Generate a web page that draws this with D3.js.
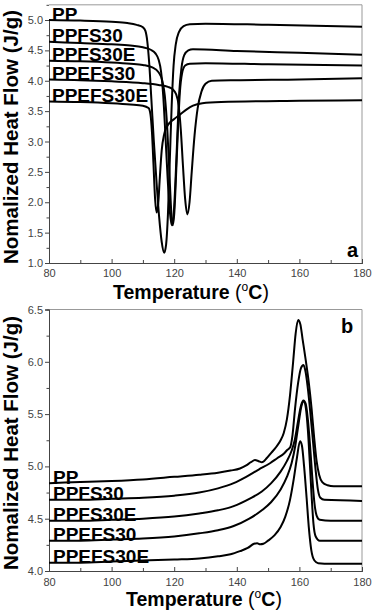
<!DOCTYPE html>
<html>
<head>
<meta charset="utf-8" />
<title>DSC curves</title>
<script src="https://d3js.org/d3.v7.min.js"></script>
<style>
  body { margin: 0; background: #fff; }
  text { font-family: "Liberation Sans", Arial, sans-serif; }
</style>
</head>
<body>
<svg width="372" height="610"></svg>
<script>
// sample names, same order in both panels
const names = ["PP", "PPFS30", "PPFS30E", "PPEFS30", "PPEFS30E"];

// panel a: cooling curves [temperature, heat flow]
const coolPP = [[80,5.0],[90,4.99],[100,4.97],[105,4.95],[108,4.92],[110,4.88],[110.8,4.82],[111.4,4.65],[112,4.3],[112.7,3.7],[113.5,3.0],[114.4,2.3],[115.2,1.75],[116,1.35],[116.8,1.17],[117.4,1.3],[118,1.8],[118.6,2.7],[119.2,3.6],[119.8,4.25],[120.5,4.6],[121.5,4.8],[123,4.9],[125,4.93],[130,4.94],[150,4.92],[180,4.89]];
const coolPPFS30 = [[80,4.64],[90,4.62],[100,4.6],[106,4.58],[110,4.55],[112.5,4.51],[114,4.45],[115,4.35],[115.8,4.15],[116.5,3.75],[117.2,3.1],[117.9,2.4],[118.6,1.85],[119.2,1.62],[119.8,1.78],[120.4,2.35],[121,3.1],[121.6,3.8],[122.3,4.2],[123.2,4.42],[124.5,4.5],[126,4.52],[140,4.49],[160,4.46],[180,4.43]];
const coolPPFS30E = [[80,4.33],[90,4.32],[100,4.3],[106,4.28],[110,4.26],[113,4.22],[115,4.14],[116.2,4.0],[117,3.75],[117.8,3.2],[118.5,2.45],[119,1.9],[119.5,1.62],[120,1.8],[120.6,2.45],[121.2,3.2],[121.8,3.8],[122.5,4.12],[123.5,4.25],[125,4.28],[130,4.29],[150,4.27],[180,4.25]];
const coolPPEFS30 = [[80,4.02],[90,4.01],[100,3.99],[110,3.96],[115,3.93],[118,3.9],[119.5,3.86],[120.6,3.78],[121.4,3.6],[122.1,3.2],[122.8,2.6],[123.5,2.05],[124.2,1.8],[124.9,2.0],[125.6,2.5],[126.5,3.1],[127.5,3.55],[128.7,3.82],[130,3.95],[132,4.0],[140,4.01],[160,4.02],[180,4.04]];
const coolPPEFS30E = [[80,3.66],[90,3.65],[100,3.63],[106,3.61],[110,3.59],[111.8,3.55],[112.4,3.45],[112.9,3.15],[113.4,2.6],[113.9,2.05],[114.4,1.83],[114.9,1.98],[115.4,2.4],[116,2.85],[116.8,3.12],[118,3.27],[120,3.37],[122,3.45],[124,3.53],[126,3.59],[129,3.63],[135,3.65],[160,3.67],[180,3.68]];

// panel b: heating curves
const heatPP = [[80,4.84],[90,4.85],[100,4.86],[110,4.875],[120,4.9],[128,4.92],[134,4.94],[138,4.96],[141,4.98],[143,5.01],[144.5,5.04],[145.8,5.06],[147,5.05],[148,5.04],[149.6,5.08],[151,5.13],[152.7,5.19],[154,5.25],[155,5.32],[156,5.45],[157,5.68],[158,6.0],[158.8,6.27],[159.6,6.4],[160.3,6.36],[161,6.22],[162,6.02],[163,5.8],[163.9,5.55],[164.7,5.28],[165.5,5.05],[166.3,4.92],[167.3,4.85],[169,4.82],[171,4.81],[180,4.81]];
const heatPPFS30 = [[80,4.68],[90,4.68],[100,4.69],[110,4.7],[120,4.72],[128,4.75],[134,4.79],[139,4.84],[143,4.9],[147,4.97],[150.6,5.03],[153,5.08],[155,5.12],[156.2,5.16],[157,5.18],[157.8,5.3],[158.6,5.55],[159.6,5.8],[160.5,5.94],[161.3,5.97],[162,5.9],[162.8,5.72],[163.6,5.48],[164.4,5.22],[165.2,4.96],[165.9,4.78],[166.7,4.7],[168,4.68],[180,4.67]];
const heatPPFS30E = [[80,4.48],[90,4.48],[100,4.49],[110,4.5],[120,4.52],[128,4.55],[134,4.58],[139,4.62],[144,4.69],[148,4.76],[151,4.84],[154,4.95],[156,5.05],[157.5,5.15],[158.5,5.25],[159.5,5.42],[160.5,5.58],[161.3,5.63],[162,5.6],[162.7,5.45],[163.4,5.2],[164.1,4.9],[164.8,4.65],[165.5,4.53],[166.5,4.49],[170,4.48],[180,4.48]];
const heatPPEFS30 = [[80,4.29],[90,4.29],[100,4.3],[110,4.31],[120,4.33],[128,4.36],[134,4.39],[139,4.43],[144,4.5],[148,4.58],[151,4.66],[154,4.78],[156,4.9],[157.5,5.03],[158.7,5.2],[159.7,5.4],[160.6,5.57],[161.4,5.62],[162.1,5.55],[162.7,5.35],[163.3,5.05],[163.9,4.72],[164.5,4.45],[165.2,4.33],[166.5,4.29],[170,4.29],[180,4.29]];
const heatPPEFS30E = [[80,4.08],[90,4.08],[100,4.09],[110,4.1],[120,4.11],[128,4.12],[134,4.14],[138,4.16],[141,4.19],[143.5,4.22],[145.5,4.26],[146.5,4.265],[147.5,4.255],[148.5,4.26],[150,4.29],[152,4.34],[154,4.42],[155.5,4.52],[157,4.68],[158.2,4.88],[159.2,5.08],[160.2,5.24],[160.8,5.2],[161.5,5.0],[162.3,4.7],[163,4.42],[163.8,4.2],[164.8,4.1],[166,4.075],[170,4.07],[180,4.07]];

// ticks
const xTicks = [80, 100, 120, 140, 160, 180];
const xMinor = [90, 110, 130, 150, 170];
const yTicksA = [1.0, 1.5, 2.0, 2.5, 3.0, 3.5, 4.0, 4.5, 5.0];
const yMinorA = [1.25, 1.75, 2.25, 2.75, 3.25, 3.75, 4.25, 4.75, 5.25];
const yTicksB = [4.0, 4.5, 5.0, 5.5, 6.0, 6.5];
const yMinorB = [4.25, 4.75, 5.25, 5.75, 6.25];

const svg = d3.select("svg");
const left = 49, right = 362;

function drawPanel(cfg) {
    const x = d3.scaleLinear().domain([80, 180]).range([left, right]);
    const y = d3.scaleLinear().domain(cfg.yDomain).range(cfg.yRange);
    const g = svg.append("g");
    const yTop = y(cfg.yMax), yBot = y(cfg.yDomain[0]);

    // frame top and right
    g.append("path")
        .attr("d", `M${left},${yTop}H${right}V${yBot}`)
        .attr("fill", "none").attr("stroke", "#999").attr("stroke-width", 1);

    const xAx = g.append("g").attr("transform", `translate(0,${yBot})`)
        .call(d3.axisBottom(x).tickValues(xTicks).tickSize(-4).tickPadding(cfg.xPad));
    g.append("g").attr("transform", `translate(0,${yBot})`)
        .call(d3.axisBottom(x).tickValues(xMinor).tickSize(-3).tickFormat(""));
    g.append("g").attr("transform", `translate(${left},0)`)
        .call(d3.axisLeft(y).tickValues(cfg.yTicks).tickSize(4).tickPadding(2).tickFormat(d3.format(".1f")));
    g.append("g").attr("transform", `translate(${left},0)`)
        .call(d3.axisLeft(y).tickValues(cfg.yMinor).tickSize(2.5).tickFormat(""));

    g.selectAll(".domain").attr("stroke", "#444");
    g.selectAll(".tick line").attr("stroke", "#444");
    g.selectAll(".tick text").attr("fill", "#444").style("font-size", "11px")
        .style("font-family", "Liberation Sans, Arial, sans-serif");
    xAx.selectAll(".tick text").attr("dy", "0.45em");

    const line = d3.line().x(d => x(d[0])).y(d => y(d[1])).curve(d3.curveMonotoneX);
    g.selectAll(".curve").data(cfg.series).enter().append("path")
        .attr("class", "curve")
        .attr("d", line)
        .attr("fill", "none").attr("stroke", "#000").attr("stroke-width", 2);

    // sample names sit on the start of each curve
    g.selectAll(".lab").data(cfg.series).enter().append("text")
        .attr("class", "lab")
        .attr("x", cfg.labX)
        .attr("y", d => y(d[0][1]) + 0.5)
        .style("font-size", "19px").style("font-weight", "bold")
        .text((d, i) => names[i]);

    g.append("text").attr("x", cfg.letter[0]).attr("y", cfg.letter[1])
        .style("font-size", "20px").style("font-weight", "bold").text(cfg.letterText);

    // axis titles
    g.append("text").attr("transform", `translate(18,${cfg.yTitleC}) rotate(-90)`)
        .attr("text-anchor", "middle")
        .style("font-size", "20.5px").style("font-weight", "bold")
        .text("Nomalized Heat Flow (J/g)");

    const xt = g.append("text").attr("x", cfg.xTitle[0]).attr("y", cfg.xTitle[1])
        .style("font-size", "19.5px").style("font-weight", "bold");
    xt.append("tspan").text("Temperature ");
    xt.append("tspan").style("font-weight", "normal").text("(");
    xt.append("tspan").attr("dy", -8).style("font-size", "12px").style("font-weight", "normal").text("o");
    xt.append("tspan").attr("dy", 8).text("C");
    xt.append("tspan").style("font-weight", "normal").text(")");
}

drawPanel({
    yDomain: [1.0, 5.0], yRange: [263, 20], yMax: 5.25,
    yTicks: yTicksA, yMinor: yMinorA,
    series: [coolPP, coolPPFS30, coolPPFS30E, coolPPEFS30, coolPPEFS30E],
    labX: 52, letter: [347, 257], letterText: "a",
    xPad: 9, xTitle: [113, 299], yTitleC: 137
});

drawPanel({
    yDomain: [4.0, 6.5], yRange: [571, 309.5], yMax: 6.5,
    yTicks: yTicksB, yMinor: yMinorB,
    series: [heatPP, heatPPFS30, heatPPFS30E, heatPPEFS30, heatPPEFS30E],
    labX: 53, letter: [341, 333], letterText: "b",
    xPad: 10, xTitle: [126, 606], yTitleC: 443
});
</script>
</body>
</html>
